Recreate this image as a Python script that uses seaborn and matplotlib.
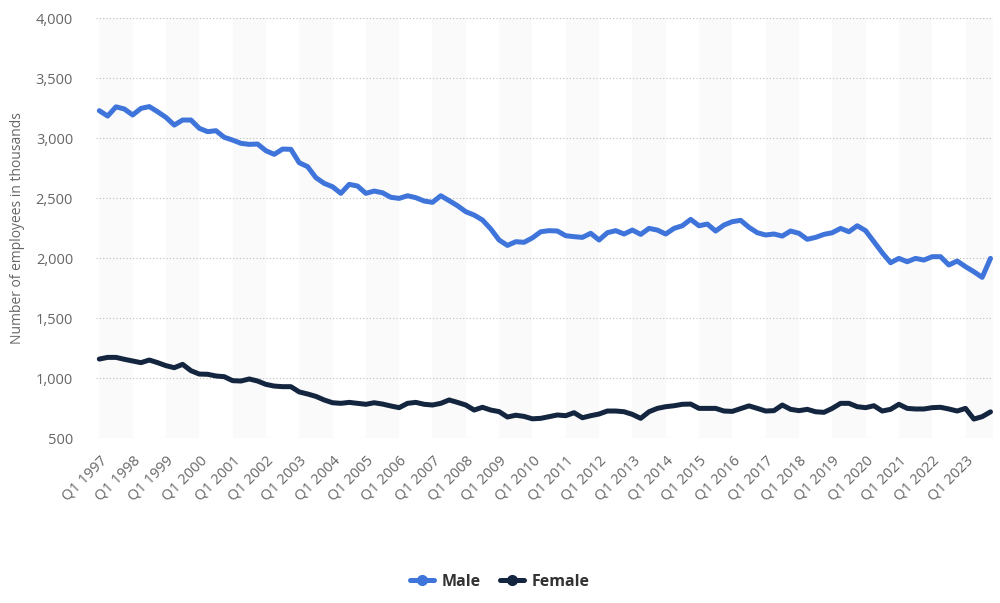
import numpy as np
import pandas as pd
import matplotlib
matplotlib.use("Agg")
import matplotlib.pyplot as plt
import seaborn as sns
from matplotlib.lines import Line2D

years = list(range(1997, 2024))
quarters = [f"Q{q} {y}" for y in years for q in range(1, 5)]

male = [3228, 3183, 3260, 3242, 3192, 3247, 3262, 3219, 3172, 3108, 3150, 3150,
        3081, 3053, 3061, 3006, 2983, 2956, 2947, 2950, 2894, 2864, 2908, 2906,
        2794, 2762, 2670, 2622, 2594, 2539, 2614, 2600, 2539, 2558, 2544, 2506,
        2497, 2519, 2503, 2475, 2464, 2519, 2478, 2436, 2386, 2358, 2317, 2242,
        2150, 2105, 2136, 2131, 2168, 2219, 2228, 2225, 2186, 2178, 2172, 2206,
        2150, 2211, 2228, 2200, 2233, 2197, 2247, 2233, 2200, 2247, 2269, 2322,
        2269, 2283, 2225, 2275, 2303, 2314, 2256, 2211, 2192, 2200, 2183, 2225,
        2206, 2156, 2172, 2197, 2211, 2247, 2219, 2269, 2228, 2136, 2044, 1961,
        1997, 1969, 1997, 1983, 2011, 2011, 1942, 1975, 1928, 1886, 1839, 1997]

female = [1158, 1172, 1172, 1156, 1142, 1128, 1150, 1128, 1103, 1086, 1114, 1061,
          1033, 1031, 1017, 1011, 978, 975, 992, 975, 947, 933, 928, 928,
          884, 867, 847, 817, 794, 789, 797, 789, 781, 794, 783, 767,
          753, 789, 797, 781, 775, 789, 817, 797, 775, 733, 756, 733,
          720, 675, 690, 680, 660, 664, 678, 692, 686, 711, 669, 686,
          700, 725, 725, 719, 697, 664, 719, 747, 761, 769, 781, 783,
          747, 747, 747, 725, 722, 745, 768, 747, 725, 728, 775, 739,
          728, 739, 719, 714, 747, 789, 789, 761, 753, 769, 725, 739,
          781, 747, 742, 742, 753, 756, 742, 725, 747, 658, 678, 718]

yticks = [500, 1000, 1500, 2000, 2500, 3000, 3500, 4000]

df = pd.DataFrame({
    "idx": list(range(len(quarters))) * 2,
    "value": male + female,
    "series": ["Male"] * len(male) + ["Female"] * len(female),
})

sns.set_theme(style="white")
plt.rcParams['font.family'] = ['Open Sans', 'DejaVu Sans']

colors = {"Male": "#3f75db", "Female": "#14253f"}

fig = plt.figure(figsize=(10, 6.03), dpi=100)
ax = fig.add_axes([0.096, 0.2736, 0.897, 0.6965])

# alternating year bands
for k, y in enumerate(years):
    if k % 2 == 0:
        ax.axvspan(4 * k, 4 * k + 4, color="#fafafa", zorder=0, lw=0)

sns.lineplot(data=df, x="idx", y="value", hue="series", palette=colors,
             linewidth=3.6, ax=ax, legend=False, zorder=3,
             solid_joinstyle="round", solid_capstyle="round")

ax.set_xlim(-0.4, 107.3)
ax.set_ylim(500, 4000)
ax.set_yticks(yticks)
ax.set_yticklabels([f"{v:,}" for v in yticks], color="#666666", fontsize=10.5)
ax.yaxis.grid(True, linestyle=(0, (1, 2)), color="#bbbbbb", linewidth=0.8, zorder=1)
ax.xaxis.grid(False)

xt = [4 * k for k in range(len(years))]
ax.set_xticks(xt)
ax.set_xticklabels([quarters[i] for i in xt], rotation=45, ha="right",
                   rotation_mode="anchor", color="#666666", fontsize=10.5)
ax.tick_params(axis="x", length=0, pad=11)
ax.tick_params(axis="y", length=0, pad=16.5)

for s in ax.spines.values():
    s.set_visible(False)

ax.set_xlabel("")
ax.set_ylabel("Number of employees in thousands", color="#666666", fontsize=10,
              labelpad=8)

handles = [Line2D([0], [0], color=colors[n], lw=3.6, marker="o", markersize=7)
           for n in ["Male", "Female"]]
leg = fig.legend(handles, ["Male", "Female"], loc="center", bbox_to_anchor=(0.5, 0.035),
                 ncol=2, frameon=False, handlelength=1.5, columnspacing=1.2,
                 handletextpad=0.5, prop={"weight": "bold", "size": 11.5})
for t in leg.get_texts():
    t.set_color("#333333")

fig.savefig("out.png", dpi=100)
